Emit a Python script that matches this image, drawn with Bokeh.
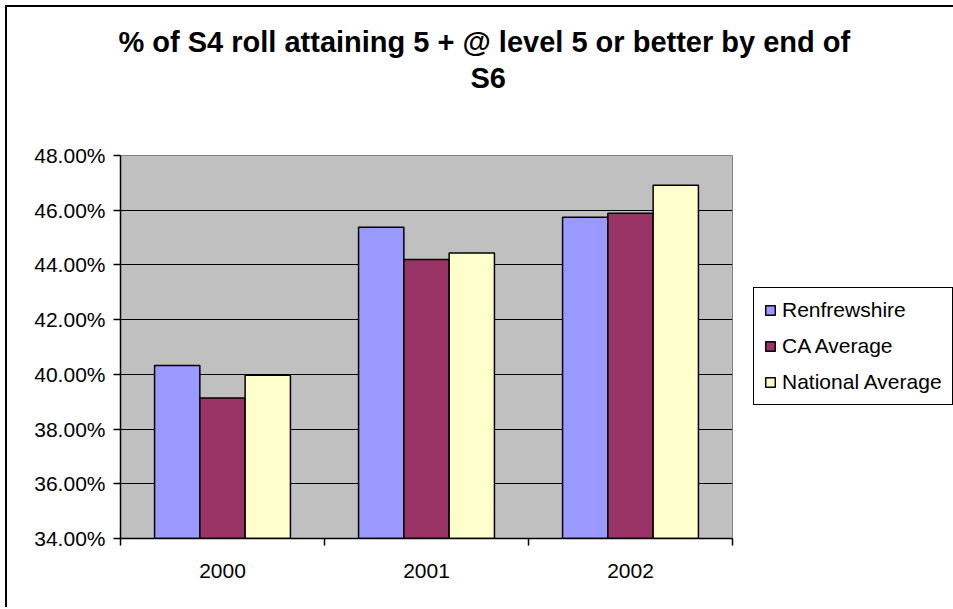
from bokeh.plotting import figure
from bokeh.models import (ColumnDataSource, Range1d, FixedTicker, NumeralTickFormatter,
                          Legend, LegendItem, Title)
from bokeh.transform import dodge
from bokeh.embed import file_html
from bokeh.resources import INLINE

# ---- data ----
years = ["2000", "2001", "2002"]
renfrewshire = [0.4032, 0.4538, 0.4574]
ca_average = [0.3914, 0.4420, 0.4589]
national_average = [0.3997, 0.4444, 0.4691]
series_names = ["Renfrewshire", "CA Average", "National Average"]
series_colors = ["#9999FF", "#993366", "#FFFFCC"]
y_min, y_max, y_step = 0.34, 0.48, 0.02
title_line1 = "% of S4 roll attaining 5 + @ level 5 or better by end of"
title_line2 = "S6"

FONT = "Liberation Sans"

centers = [i + 0.5 for i in range(len(years))]
bounds = [float(i) for i in range(len(years) + 1)]
src = ColumnDataSource(dict(x=centers, r=renfrewshire, c=ca_average, n=national_average))

p = figure(frame_width=612, frame_height=383, output_backend="svg", toolbar_location=None,
           title=None,
           x_range=Range1d(0, len(years)), y_range=Range1d(y_min, y_max),
           min_border_left=113, min_border_right=221, min_border_top=148,
           min_border_bottom=71)
p.margin = (7, 0, 0, 7)
p.styles = {"box-shadow": "-2px -2px 0 0 black", "background-color": "white"}

p.background_fill_color = "#C0C0C0"
p.border_fill_color = "white"
p.outline_line_color = "#808080"
p.outline_line_width = 1

bw = 0.222
renderers = []
for col, off, color in zip(["r", "c", "n"], [-bw, 0.0, bw], series_colors):
    r = p.vbar(x=dodge("x", off, range=p.x_range), top=col, bottom=y_min, width=bw,
               source=src, fill_color=color, line_color="black", line_width=1.5)
    renderers.append(r)

# axes
p.xaxis.ticker = FixedTicker(ticks=centers, minor_ticks=bounds)
p.xaxis.major_label_overrides = {c: y for c, y in zip(centers, years)}
p.xaxis.major_tick_out = 0
p.xaxis.major_tick_in = 0
p.xaxis.minor_tick_out = 7
p.xaxis.minor_tick_in = 0
p.xaxis.minor_tick_line_color = "black"
p.xaxis.minor_tick_line_width = 1.5
p.xaxis.major_label_standoff = 18
p.xaxis.axis_line_width = 1.5

nt = int(round((y_max - y_min) / y_step)) + 1
p.yaxis.ticker = FixedTicker(ticks=[round(y_min + i * y_step, 4) for i in range(nt)])
p.yaxis.formatter = NumeralTickFormatter(format="0.00%")
p.yaxis.major_tick_out = 7
p.yaxis.major_tick_in = 0
p.yaxis.minor_tick_out = 0
p.yaxis.minor_tick_in = 0
p.yaxis.major_label_standoff = 8
p.yaxis.axis_line_width = 1.5
p.yaxis.major_tick_line_width = 1.5

for ax in (p.xaxis, p.yaxis):
    ax.major_label_text_font = FONT
    ax.major_label_text_font_size = "21px"
    ax.major_label_text_color = "black"
    ax.axis_line_color = "black"
    ax.major_tick_line_color = "black"

p.xgrid.visible = False
p.ygrid.grid_line_color = "black"
p.ygrid.grid_line_width = 1.2

# title (two lines, with a blank spacer title next to the frame)
for txt, off, so in [(" ", 0, 28), (title_line2, 350, 0), (title_line1, -2, 4)]:
    t = Title(text=txt, align="left", offset=off, standoff=so,
              text_font=FONT, text_font_size="29px", text_font_style="bold",
              text_color="black")
    p.add_layout(t, "above")

legend = Legend(items=[LegendItem(label=n, renderers=[r]) for n, r in zip(series_names, renderers)],
                location=(21, 133))
legend.label_text_font = FONT
legend.label_text_font_size = "21px"
legend.label_text_color = "black"
legend.label_height = 24
legend.glyph_width = 12
legend.glyph_height = 12
legend.label_standoff = 6
legend.spacing = 12
legend.padding = 10
legend.margin = 0
legend.border_line_color = "black"
legend.border_line_alpha = 1
legend.border_line_width = 1.5
legend.background_fill_color = "white"
legend.background_fill_alpha = 1
p.add_layout(legend, "right")

open("out.html", "w").write(file_html(p, INLINE))
